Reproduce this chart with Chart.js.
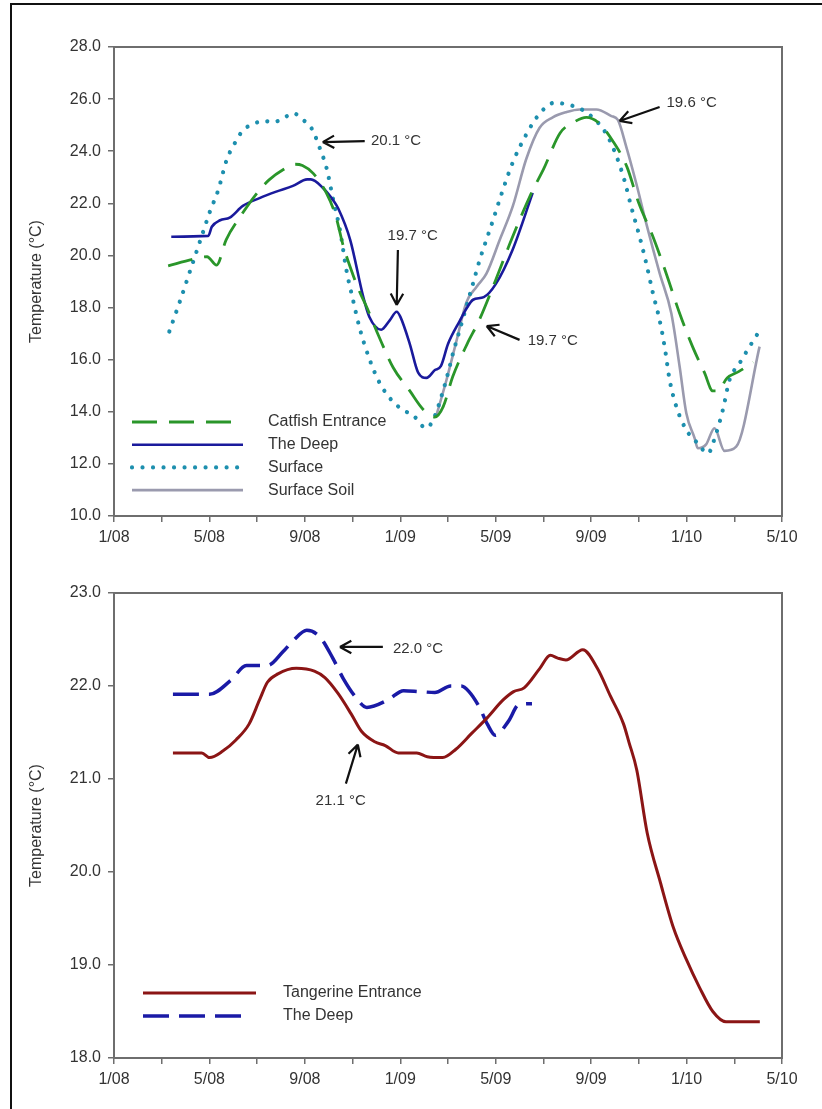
<!DOCTYPE html>
<html>
<head>
<meta charset="utf-8">
<title>Cave temperatures</title>
<script src="https://cdn.jsdelivr.net/npm/chart.js@4.4.1/dist/chart.umd.min.js"></script>
<style>
  html, body { margin: 0; padding: 0; background: #fff; }
  #page { position: relative; width: 822px; height: 1109px; overflow: hidden; }
  .frame { position: absolute; left: 10px; top: 3px; width: 830px; height: 1130px;
           border-left: 2px solid #111; border-top: 2px solid #111; }
  #topWrap { position: absolute; left: 0; top: 0; }
  #bottomWrap { position: absolute; left: 0; top: 555px; }
</style>
</head>
<body>
<div id="page">
  <div class="frame"></div>
  <div id="topWrap"><canvas id="topChart" width="822" height="555"></canvas></div>
  <div id="bottomWrap"><canvas id="bottomChart" width="822" height="554"></canvas></div>
</div>
<script>
// ── Data (x = months since Jan 2008) ──────────────────────────────────────
const xTickLabels = ['1/08', '5/08', '9/08', '1/09', '5/09', '9/09', '1/10', '5/10'];

const catfishMonths = [2.27, 3.3, 3.9, 4.3, 4.7, 5.3, 6.0, 6.5, 7.1, 7.6, 7.9, 8.35, 8.9, 9.3, 9.6, 10.0, 10.3, 10.6, 11.1, 11.7, 12.4, 12.95, 13.45, 13.8, 14.2, 14.8, 15.3, 16.0, 16.7, 17.55, 18.0, 18.7, 19.25, 19.8, 20.3, 20.9, 21.5, 22.0, 22.6, 23.15, 23.7, 24.25, 24.75, 25.1, 25.3, 25.7, 26.2, 26.8];
const catfishTemps  = [19.6, 19.85, 19.95, 19.63, 20.6, 21.5, 22.4, 22.9, 23.3, 23.5, 23.45, 23.15, 22.4, 21.5, 20.4, 19.3, 18.6, 18.0, 16.9, 15.7, 14.8, 14.1, 13.8, 14.2, 15.35, 16.6, 17.5, 19.06, 20.7, 22.5, 23.3, 24.7, 25.1, 25.3, 25.1, 24.4, 23.4, 22.0, 20.7, 19.3, 17.8, 16.5, 15.5, 14.8, 14.8, 15.3, 15.55, 15.9];

const deepMonths = [2.4, 3.95, 4.1, 4.45, 4.85, 5.4, 6.1, 6.8, 7.5, 8.1, 8.25, 8.75, 9.2, 9.4, 9.9, 10.45, 10.7, 11.2, 11.55, 11.85, 12.0, 12.4, 12.75, 13.1, 13.45, 13.7, 14.0, 14.5, 14.8, 15.05, 15.5, 16.0, 16.7, 17.55];
const deepTemps  = [20.72, 20.75, 21.1, 21.35, 21.45, 21.9, 22.2, 22.45, 22.67, 22.92, 22.92, 22.6, 22.1, 21.8, 20.6, 18.4, 17.65, 17.15, 17.5, 17.84, 17.65, 16.6, 15.5, 15.3, 15.6, 15.75, 16.6, 17.5, 18.0, 18.3, 18.4, 18.9, 20.2, 22.4];

const surfaceMonths = [2.32, 2.76, 3.18, 3.6, 4.02, 4.37, 4.72, 5.14, 5.42, 5.83, 6.25, 6.67, 7.09, 7.51, 7.93, 8.28, 8.63, 8.91, 9.19, 9.47, 9.75, 10.02, 10.3, 10.72, 11.14, 11.63, 12.11, 12.53, 13.09, 13.44, 13.72, 14.0, 14.21, 14.49, 14.77, 15.05, 15.33, 15.61, 15.89, 16.16, 16.72, 17.28, 17.84, 18.47, 18.96, 19.5, 20.0, 20.62, 21.04, 21.39, 21.68, 22.03, 22.31, 22.59, 22.87, 23.08, 23.29, 23.57, 23.99, 24.47, 24.89, 25.24, 25.52, 25.8, 26.22, 26.64, 26.99];
const surfaceTemps  = [17.08, 18.23, 19.38, 20.53, 21.68, 22.51, 23.66, 24.43, 24.82, 25.03, 25.17, 25.11, 25.26, 25.46, 25.2, 24.88, 24.11, 23.35, 22.13, 20.98, 19.4, 18.29, 17.2, 15.99, 15.1, 14.45, 14.07, 13.87, 13.37, 13.82, 14.58, 15.48, 16.25, 17.14, 18.04, 18.93, 19.83, 20.6, 21.36, 22.13, 23.58, 24.64, 25.44, 25.86, 25.8, 25.65, 25.35, 24.69, 23.86, 22.9, 21.87, 20.72, 19.7, 18.55, 17.52, 16.5, 15.22, 14.2, 13.3, 12.79, 12.4, 13.17, 14.07, 15.22, 15.86, 16.5, 17.01];

const soilMonths = [13.51, 13.93, 14.35, 14.77, 15.2, 15.61, 16.17, 16.72, 17.28, 17.84, 18.39, 18.96, 19.52, 20.22, 20.85, 21.12, 21.47, 21.89, 22.31, 22.87, 23.36, 23.71, 23.99, 24.34, 24.47, 24.82, 25.17, 25.59, 26.08, 27.06];
const soilTemps  = [13.85, 15.2, 16.7, 18.2, 18.8, 19.3, 20.6, 21.9, 23.7, 24.9, 25.3, 25.5, 25.6, 25.6, 25.35, 25.2, 24.18, 22.77, 21.23, 19.32, 17.78, 15.73, 13.94, 12.98, 12.6, 12.75, 13.37, 12.5, 12.66, 16.5];

const tangerineMonths = [2.47, 3.68, 4.01, 4.56, 5.11, 5.66, 6.1, 6.43, 6.87, 7.64, 8.4, 8.84, 9.39, 9.94, 10.38, 10.93, 11.37, 11.92, 12.69, 13.13, 13.78, 14.33, 14.99, 15.65, 16.31, 16.75, 17.19, 17.85, 18.29, 18.6, 18.94, 19.65, 20.26, 20.81, 21.36, 21.58, 21.91, 22.35, 22.9, 23.45, 23.99, 24.54, 25.1, 25.65, 27.07];
const tangerineTemps  = [21.28, 21.28, 21.23, 21.3, 21.42, 21.59, 21.85, 22.04, 22.13, 22.19, 22.16, 22.09, 21.92, 21.7, 21.51, 21.4, 21.36, 21.28, 21.28, 21.24, 21.23, 21.32, 21.49, 21.66, 21.85, 21.94, 21.98, 22.19, 22.33, 22.3, 22.28, 22.39, 22.19, 21.89, 21.59, 21.4, 21.1, 20.42, 19.89, 19.4, 19.06, 18.76, 18.5, 18.39, 18.39];

const deep2Months = [2.47, 4.01, 4.89, 5.55, 6.43, 7.09, 7.52, 8.08, 8.62, 9.17, 9.61, 10.16, 10.6, 11.48, 12.14, 12.8, 13.45, 14.11, 14.55, 14.88, 15.32, 15.65, 15.98, 16.53, 16.97, 17.52];
const deep2Temps  = [21.91, 21.91, 22.06, 22.22, 22.22, 22.37, 22.49, 22.6, 22.53, 22.3, 22.08, 21.87, 21.77, 21.85, 21.95, 21.94, 21.93, 22.0, 22.0, 21.94, 21.77, 21.59, 21.47, 21.62, 21.8, 21.81];

// callouts: [tailMonth, tailTemp, headMonth, headTemp, text, textMonth, textTemp, align]
const topNotes = [
  [10.51, 24.39, 8.75, 24.35, '20.1 °C', 10.77, 24.39, 'left'],
  [11.9, 20.21, 11.85, 18.1, '19.7 °C', 12.52, 20.75, 'center'],
  [17.0, 16.76, 15.62, 17.29, '19.7 °C', 17.34, 16.72, 'left'],
  [22.87, 25.7, 21.19, 25.16, '19.6 °C', 23.16, 25.85, 'left'],
];
const bottomNotes = [
  [11.27, 22.42, 9.47, 22.42, '22.0 °C', 11.69, 22.40, 'left'],
  [9.72, 20.95, 10.22, 21.37, '21.1 °C', 9.5, 20.76, 'center'],
];

// ── Styling ────────────────────────────────────────────────────────────────
const FONT = "'Liberation Sans', Arial, sans-serif";
const AXIS_GRAY = '#6e6e6e';
const TEXT = '#333';

const pts = (xs, ys) => xs.map((x, i) => ({ x: x, y: ys[i] }));

function series(label, xs, ys, color, extra) {
  return Object.assign({
    label: label,
    data: pts(xs, ys),
    borderColor: color,
    backgroundColor: color,
    borderWidth: 2.6,
    pointRadius: 0,
    fill: false,
    cubicInterpolationMode: 'monotone',
  }, extra || {});
}

// plot frame + legend + callouts
const decorPlugin = {
  id: 'decor',
  afterDatasetsDraw(chart, args, opts) {
    const ctx = chart.ctx;
    const a = chart.chartArea;
    const xs = chart.scales.x, ys = chart.scales.y;

    ctx.save();
    ctx.strokeStyle = AXIS_GRAY;
    ctx.lineWidth = 2;
    ctx.strokeRect(a.left, a.top, a.right - a.left, a.bottom - a.top);

    // legend
    const lg = opts.legend;
    chart.data.datasets.forEach((ds, i) => {
      const y = lg.y + i * lg.row;
      const dash = ds.borderDash || [];
      let len = lg.len;
      // end a dashed sample on a whole dash
      if (dash.length && dash[0] > 1) {
        const cycle = dash[0] + dash[1];
        len = Math.floor((len + dash[1]) / cycle) * cycle - dash[1];
      }
      ctx.beginPath();
      ctx.setLineDash(dash);
      ctx.lineCap = ds.borderCapStyle || 'butt';
      ctx.strokeStyle = ds.borderColor;
      ctx.lineWidth = ds.borderWidth;
      ctx.moveTo(lg.x, y);
      ctx.lineTo(lg.x + len, y);
      ctx.stroke();
      ctx.setLineDash([]);
      ctx.fillStyle = TEXT;
      ctx.font = '16px ' + FONT;
      ctx.textBaseline = 'middle';
      ctx.textAlign = 'left';
      ctx.fillText(ds.label, lg.textX, y);
    });

    // callouts
    ctx.lineCap = 'butt';
    opts.notes.forEach(n => {
      const x1 = xs.getPixelForValue(n[0]), y1 = ys.getPixelForValue(n[1]);
      const x2 = xs.getPixelForValue(n[2]), y2 = ys.getPixelForValue(n[3]);
      const ang = Math.atan2(y2 - y1, x2 - x1);
      ctx.strokeStyle = '#111';
      ctx.lineWidth = 2.2;
      ctx.beginPath();
      ctx.moveTo(x1, y1);
      ctx.lineTo(x2, y2);
      [0.5, -0.5].forEach(d => {
        ctx.moveTo(x2, y2);
        ctx.lineTo(x2 - 13 * Math.cos(ang + d), y2 - 13 * Math.sin(ang + d));
      });
      ctx.stroke();
      ctx.fillStyle = TEXT;
      ctx.font = '15px ' + FONT;
      ctx.textAlign = n[7];
      ctx.textBaseline = 'middle';
      ctx.fillText(n[4], xs.getPixelForValue(n[5]), ys.getPixelForValue(n[6]));
    });
    ctx.restore();
  }
};

function xScale(height) {
  return {
    type: 'linear',
    min: 0, max: 28,
    ticks: {
      stepSize: 2, autoSkip: false, maxRotation: 0, padding: 6,
      color: TEXT, font: { family: FONT, size: 16 },
      callback: v => (v % 4 === 0 ? xTickLabels[v / 4] : ''),
    },
    grid: { drawOnChartArea: false, drawTicks: true, tickLength: 6, color: AXIS_GRAY, lineWidth: 1.5 },
    border: { display: true, color: AXIS_GRAY, width: 2 },
    afterFit: s => { s.height = height; },
  };
}

function yScale(min, max, step) {
  return {
    min: min, max: max,
    ticks: {
      stepSize: step, padding: 7, color: TEXT, font: { family: FONT, size: 16 },
      callback: v => v.toFixed(1),
    },
    grid: { drawOnChartArea: false, drawTicks: true, tickLength: 6, color: AXIS_GRAY, lineWidth: 1.5 },
    border: { display: true, color: AXIS_GRAY, width: 2 },
    title: {
      display: true, text: 'Temperature (°C)', color: TEXT,
      font: { family: FONT, size: 16 }, padding: { top: 27, bottom: 0 },
    },
    afterFit: s => { s.width = 114; },
  };
}

function makeChart(id, datasets, yMin, yMax, yStep, padTop, xHeight, legend, notes) {
  return new Chart(document.getElementById(id), {
    type: 'line',
    data: { datasets: datasets },
    options: {
      responsive: false,
      animation: false,
      layout: { padding: { top: padTop, right: 40, left: 0, bottom: 0 } },
      scales: { x: xScale(xHeight), y: yScale(yMin, yMax, yStep) },
      plugins: {
        legend: { display: false },
        tooltip: { enabled: false },
        decor: { legend: legend, notes: notes },
      },
    },
    plugins: [decorPlugin],
  });
}

makeChart('topChart', [
  series('Catfish Entrance', catfishMonths, catfishTemps, '#2a962a', { borderDash: [25, 12], borderWidth: 2.8 }),
  series('The Deep', deepMonths, deepTemps, '#1a1a9c'),
  series('Surface', surfaceMonths, surfaceTemps, '#1d8fae', { borderDash: [0.01, 10.5], borderCapStyle: 'round', borderWidth: 4.2 }),
  series('Surface Soil', soilMonths, soilTemps, '#9a9aae'),
], 10, 28, 2, 47, 39, { x: 132, len: 111, y: 422, row: 22.7, textX: 268 }, topNotes);

makeChart('bottomChart', [
  series('Tangerine Entrance', tangerineMonths, tangerineTemps, '#8b1515', { borderWidth: 3 }),
  series('The Deep', deep2Months, deep2Temps, '#1a1aa6', { borderDash: [26, 10], borderWidth: 3.5 }),
], 18, 23, 1, 38, 51, { x: 143, len: 113, y: 438, row: 23, textX: 283 }, bottomNotes);
</script>
</body>
</html>
